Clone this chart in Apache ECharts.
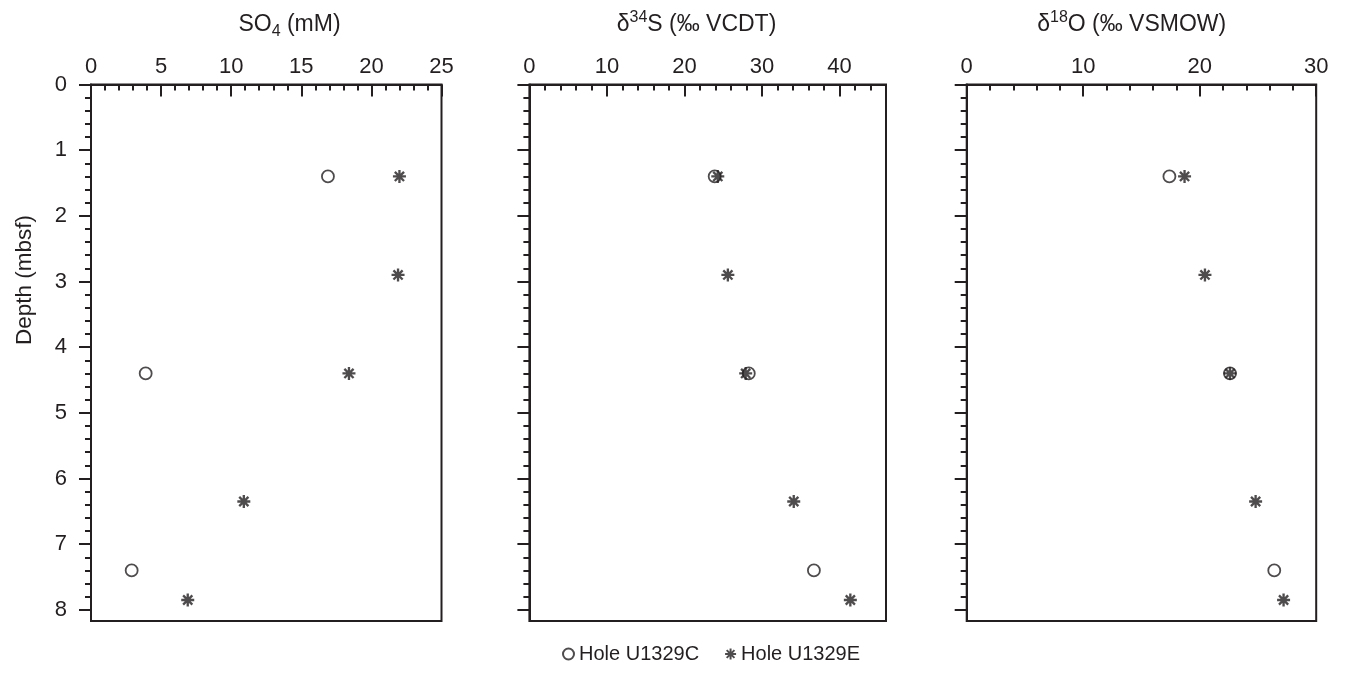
<!DOCTYPE html>
<html><head><meta charset="utf-8">
<script src="https://cdn.jsdelivr.net/npm/echarts@6/dist/echarts.min.js"></script>
<style>html,body{margin:0;padding:0;background:#fff}#c{width:1345px;height:673px}</style>
</head><body><div id="c"></div>
<script>
// ---- data ----
const depthC = [1.4, 4.4, 7.4];            // Hole U1329C depths (mbsf)
const depthE = [1.4, 2.9, 4.4, 6.35, 7.85]; // Hole U1329E depths (mbsf)
const so4C = [16.9, 3.9, 2.9];
const so4E = [22.0, 21.9, 18.4, 10.9, 6.9];
const d34SC = [23.9, 28.3, 36.7];
const d34SE = [24.3, 25.6, 27.9, 34.1, 41.4];
const d18OC = [17.4, 22.6, 26.4];
const d18OE = [18.7, 20.45, 22.6, 24.8, 27.2];
const depthTicks = [0, 1, 2, 3, 4, 5, 6, 7, 8];
const seriesNames = ['Hole U1329C', 'Hole U1329E'];

const INK = '#231f20';
const FONT = 'Liberation Sans, Arial, Helvetica, sans-serif';
const depthMax = 8.17;
const depthMinor = [];
for (let i = 1; i <= 40; i++) depthMinor.push(Math.round(i * 2) / 10);

const STAR = 'path://M0 41L100 41L100 59L0 59Z M41 0L59 0L59 100L41 100Z M21 8.28L91.72 79L79 91.72L8.28 21Z M8.28 79L79 8.28L91.72 21L21 91.72Z';

const panels = [
  {grid: {left: 91, top: 84.5, width: 350.5, height: 536.5}, max: 25, major: 5, minor: 1, c: so4C, e: so4E, labels: true},
  {grid: {left: 529.4, top: 84.5, width: 356.6, height: 536.5}, max: 46, major: 10, minor: 2, c: d34SC, e: d34SE, labels: false},
  {grid: {left: 966.7, top: 84.5, width: 349.5, height: 536.5}, max: 30, major: 10, minor: 2, c: d18OC, e: d18OE, labels: false}
];

const LW = 2;
const grid = [], xAxis = [], yAxis = [], series = [];
panels.forEach((p, i) => {
  grid.push(Object.assign({show: true, borderColor: INK, borderWidth: LW, backgroundColor: 'transparent'}, p.grid));
  xAxis.push({
    type: 'value', gridIndex: i, position: 'top', min: 0, max: p.max, interval: p.major,
    axisLine: {show: true, lineStyle: {color: INK, width: LW}},
    axisTick: {show: true, inside: true, length: 12, lineStyle: {color: INK, width: LW}},
    axisLabel: {show: true, margin: 7, color: INK, fontSize: 22, fontFamily: FONT, showMaxLabel: p.max % p.major === 0},
    splitLine: {show: false}
  });
  xAxis.push({
    type: 'value', gridIndex: i, position: 'top', min: 0, max: p.max, interval: p.minor,
    axisLine: {show: false},
    axisTick: {show: true, inside: true, length: 6, lineStyle: {color: INK, width: LW}},
    axisLabel: {show: false}, splitLine: {show: false}
  });
  yAxis.push({
    type: 'value', gridIndex: i, position: 'left', inverse: true, min: 0, max: depthMax, interval: 1,
    axisLine: {show: true, lineStyle: {color: INK, width: LW}},
    axisTick: {show: true, inside: false, length: 12, customValues: depthTicks, lineStyle: {color: INK, width: LW}},
    axisLabel: {show: p.labels, margin: 24, color: INK, fontSize: 22, fontFamily: FONT, customValues: depthTicks},
    splitLine: {show: false}
  });
  yAxis.push({
    type: 'value', gridIndex: i, position: 'left', inverse: true, min: 0, max: depthMax, interval: 0.2,
    axisLine: {show: false},
    axisTick: {show: true, inside: false, length: 6, customValues: depthMinor, lineStyle: {color: INK, width: LW}},
    axisLabel: {show: false}, splitLine: {show: false}
  });
  series.push({
    name: seriesNames[0], type: 'scatter', xAxisIndex: 2 * i, yAxisIndex: 2 * i,
    symbol: 'circle', symbolSize: 12,
    itemStyle: {color: 'rgba(255,255,255,0)', borderColor: INK, borderWidth: 1.8},
    data: p.c.map((v, k) => [v, depthC[k]])
  });
  series.push({
    name: seriesNames[1], type: 'scatter', xAxisIndex: 2 * i, yAxisIndex: 2 * i,
    symbol: STAR, symbolSize: 13, symbolKeepAspect: true,
    itemStyle: {color: INK},
    data: p.e.map((v, k) => [v, depthE[k]])
  });
});

function titleText(x, y, tokens) {
  return {type: 'text', x: x, y: y, style: {
    text: tokens, align: 'center', verticalAlign: 'middle', fill: INK,
    font: '23px ' + FONT,
    rich: {
      n: {fontSize: 23, fontFamily: FONT, lineHeight: 30, verticalAlign: 'middle', color: INK},
      sub: {fontSize: 16, fontFamily: FONT, lineHeight: 16, verticalAlign: 'bottom', color: INK},
      sup: {fontSize: 16, fontFamily: FONT, lineHeight: 20, verticalAlign: 'top', color: INK}
    }
  }};
}

const option = {
  animation: false,
  backgroundColor: '#fff',
  grid, xAxis, yAxis, series,
  legend: {
    data: seriesNames, left: 557, top: 639, itemGap: 26, itemWidth: 11, itemHeight: 11,
    textStyle: {color: INK, fontSize: 20, fontFamily: FONT}
  },
  graphic: [
    titleText(289.5, 24.5, '{n|SO}{sub|4}{n| (mM)}'),
    titleText(696.5, 24.5, '{n|δ}{sup|34}{n|S (‰ VCDT)}'),
    titleText(1131.7, 24.5, '{n|δ}{sup|18}{n|O (‰ VSMOW)}'),
    {type: 'text', x: 25, y: 280, rotation: Math.PI / 2, style: {
      text: 'Depth (mbsf)', align: 'center', verticalAlign: 'middle', fill: INK, font: '22.5px ' + FONT
    }}
  ]
};
const chart = echarts.init(document.getElementById('c'), null, {renderer: 'canvas'});
chart.setOption(option);
</script>
</body></html>
